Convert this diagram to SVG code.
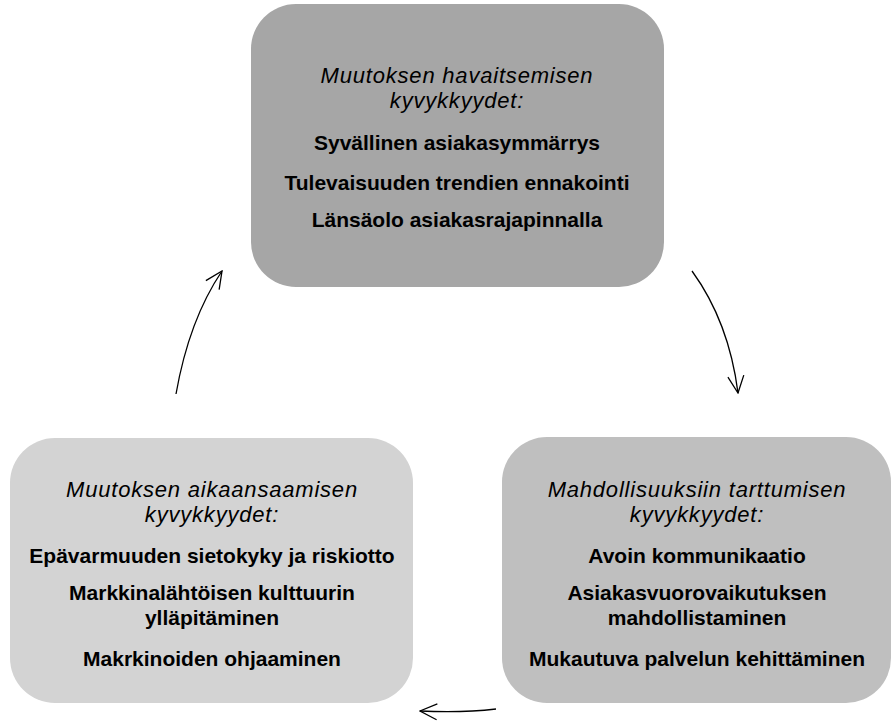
<svg xmlns="http://www.w3.org/2000/svg" width="893" height="722" viewBox="0 0 893 722">
<style>
.it{font-family:"Liberation Sans",Arial,sans-serif;font-style:italic;font-size:22px;letter-spacing:0.8px;fill:#000;text-anchor:middle}
.bd{font-family:"Liberation Sans",Arial,sans-serif;font-weight:bold;font-size:21px;fill:#000;text-anchor:middle}
.conn{fill:none;stroke:#000;stroke-width:1.3;marker-end:url(#arr)}
</style>
<defs>
<marker id="arr" markerUnits="userSpaceOnUse" viewBox="0 0 20 20" refX="19" refY="10" markerWidth="20" markerHeight="20" orient="auto">
<path d="M2,2 L19,10 L2,18" fill="none" stroke="#000" stroke-width="1.3"/>
</marker>
</defs>
<rect width="893" height="722" fill="#fff"/>
<g id="node-top">
<rect x="251" y="4" width="413" height="283" rx="45" fill="#a6a6a6"/>
<text class="it" x="457" y="83">Muutoksen havaitsemisen</text>
<text class="it" x="457" y="108">kyvykkyydet:</text>
<text class="bd" x="457" y="150">Syvällinen asiakasymmärrys</text>
<text class="bd" x="457" y="190">Tulevaisuuden trendien ennakointi</text>
<text class="bd" x="457" y="227">Länsäolo asiakasrajapinnalla</text>
</g>
<g id="node-left">
<rect x="10" y="438" width="403" height="265" rx="45" fill="#d3d3d3"/>
<text class="it" x="212" y="497">Muutoksen aikaansaamisen</text>
<text class="it" x="212" y="522">kyvykkyydet:</text>
<text class="bd" x="212" y="563">Epävarmuuden sietokyky ja riskiotto</text>
<text class="bd" x="212" y="600">Markkinalähtöisen kulttuurin</text>
<text class="bd" x="212" y="625">ylläpitäminen</text>
<text class="bd" x="212" y="666">Makrkinoiden ohjaaminen</text>
</g>
<g id="node-right">
<rect x="502" y="437" width="389" height="266" rx="45" fill="#bfbfbf"/>
<text class="it" x="697" y="497">Mahdollisuuksiin tarttumisen</text>
<text class="it" x="697" y="522">kyvykkyydet:</text>
<text class="bd" x="697" y="563">Avoin kommunikaatio</text>
<text class="bd" x="697" y="600">Asiakasvuorovaikutuksen</text>
<text class="bd" x="697" y="625">mahdollistaminen</text>
<text class="bd" x="697" y="666">Mukautuva palvelun kehittäminen</text>
</g>
<g id="connectors">
<path class="conn" d="M176,394 Q189,320 222,271"/>
<path class="conn" d="M692,271 Q729,322 738,393"/>
<path class="conn" d="M496,709 Q462,713 420,711"/>
</g>
</svg>
